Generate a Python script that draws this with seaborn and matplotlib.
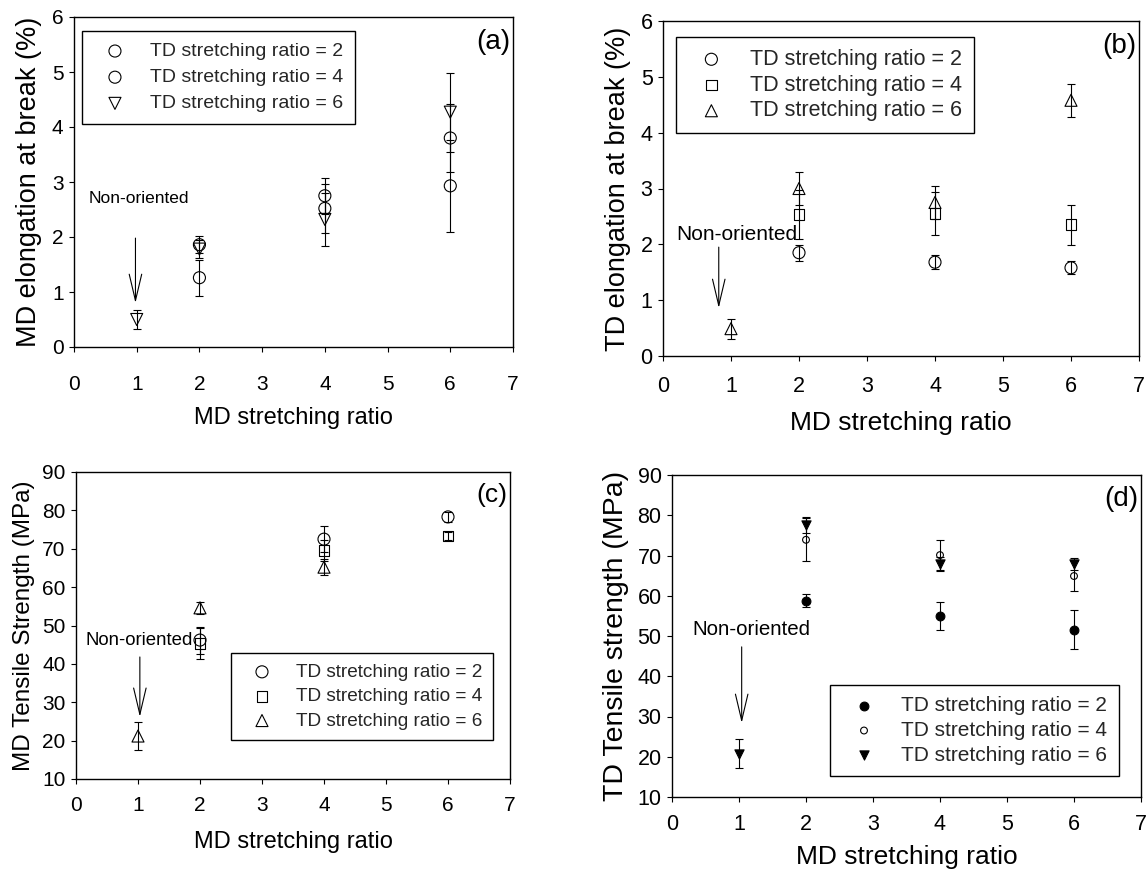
import numpy as np
import pandas as pd
import matplotlib
matplotlib.use("Agg")
import matplotlib.pyplot as plt
import seaborn as sns

sns.set_theme(style="ticks")
plt.rcParams["font.family"] = ["Liberation Sans", "DejaVu Sans"]

# ---------------- data ----------------
series_labels = ["TD stretching ratio = 2", "TD stretching ratio = 4", "TD stretching ratio = 6"]

# (a) MD elongation at break (%)
a_td2_x = [2, 4, 6]
a_td2_y = [1.26, 2.75, 2.93]
a_td2_e = [0.33, 0.33, 0.84]
a_td4_x = [2, 4, 6]
a_td4_y = [1.86, 2.52, 3.80]
a_td4_e = [0.15, 0.44, 0.61]
a_td6_x = [1, 2, 4, 6]
a_td6_y = [0.50, 1.78, 2.32, 4.27]
a_td6_e = [0.18, 0.17, 0.48, 0.72]

# (b) TD elongation at break (%)
b_td2_x = [2, 4, 6]
b_td2_y = [1.85, 1.68, 1.58]
b_td2_e = [0.14, 0.13, 0.12]
b_td4_x = [2, 4, 6]
b_td4_y = [2.53, 2.55, 2.35]
b_td4_e = [0.44, 0.39, 0.36]
b_td6_x = [1, 2, 4, 6]
b_td6_y = [0.49, 3.00, 2.75, 4.58]
b_td6_e = [0.18, 0.29, 0.29, 0.30]

# (c) MD tensile strength (MPa)
c_td2_x = [2, 4, 6]
c_td2_y = [46.2, 72.5, 78.3]
c_td2_e = [3.5, 3.4, 1.2]
c_td4_x = [2, 4, 6]
c_td4_y = [45.4, 69.6, 73.3]
c_td4_e = [4.0, 2.8, 1.0]
c_td6_x = [1, 2, 4]
c_td6_y = [21.2, 54.6, 65.2]
c_td6_e = [3.7, 1.6, 2.0]

# (d) TD tensile strength (MPa)
d_td2_x = [2, 4, 6]
d_td2_y = [58.8, 54.9, 51.6]
d_td2_e = [1.6, 3.5, 4.8]
d_td4_x = [2, 4, 6]
d_td4_y = [73.9, 70.1, 64.9]
d_td4_e = [5.3, 3.7, 3.7]
d_td6_x = [1, 2, 4, 6]
d_td6_y = [20.8, 77.6, 67.9, 67.9]
d_td6_e = [3.7, 1.9, 1.7, 1.6]

panel_letters = ["(a)", "(b)", "(c)", "(d)"]
y_labels = ["MD elongation at break (%)", "TD elongation at break (%)",
            "MD Tensile Strength (MPa)", "TD Tensile strength (MPa)"]
x_label = "MD stretching ratio"
note_text = "Non-oriented"


def make_df(xs, ys, es):
    frames = []
    for lab, x, y, e in zip(series_labels, xs, ys, es):
        frames.append(pd.DataFrame({"x": x, "y": y, "err": e, "series": lab}))
    return pd.concat(frames, ignore_index=True)


dfs = [
    make_df([a_td2_x, a_td4_x, a_td6_x], [a_td2_y, a_td4_y, a_td6_y], [a_td2_e, a_td4_e, a_td6_e]),
    make_df([b_td2_x, b_td4_x, b_td6_x], [b_td2_y, b_td4_y, b_td6_y], [b_td2_e, b_td4_e, b_td6_e]),
    make_df([c_td2_x, c_td4_x, c_td6_x], [c_td2_y, c_td4_y, c_td6_y], [c_td2_e, c_td4_e, c_td6_e]),
    make_df([d_td2_x, d_td4_x, d_td6_x], [d_td2_y, d_td4_y, d_td6_y], [d_td2_e, d_td4_e, d_td6_e]),
]

# ---------------- styles / layout ----------------
W, H = 1147, 874
rects_px = [(74, 17, 513, 347), (663, 21, 1139, 356), (76, 472, 510, 779), (672, 475, 1141, 797)]
markers = [["o", "o", "v"], ["o", "s", "^"], ["o", "s", "^"], ["o", "o", "v"]]
faces = [["none"] * 3, ["none"] * 3, ["none"] * 3, ["black", "none", "black"]]
sizes = [[75, 75, 75], [75, 60, 75], [75, 60, 75], [40, 24, 44]]
ylims = [(0, 6), (0, 6), (10, 90), (10, 90)]
yticks = [np.arange(0, 7, 1), np.arange(0, 7, 1), np.arange(10, 91, 10), np.arange(10, 91, 10)]
tick_fs = [15, 15.5, 15, 15.5]
xpads = [17, 11, 9, 9]
xlabel_pads = [9, 10, 11, 7]
ylabel_pads = [7, 7, 5, 6]
xlabel_fs = [17, 19, 17, 19]
ylabel_fs = [19.5, 19.5, 17.5, 20.5]
legend_fs = [14, 15.5, 13.7, 15]
legend_spacing = [0.44, 0.22, 0.37, 0.27]
legend_pad = [0.6, 0.55, 0.55, 0.55]
legend_loc = ["upper left", "upper left", "lower right", "lower right"]
legend_anchor = [(0.018, 0.958), (0.027, 0.952), (0.961, 0.127), (0.953, 0.065)]
letter_fs = [20, 20, 19, 20]
note_fs = [12.5, 15, 13.4, 14.8]
note_pos = [(0.24, 2.7), (0.19, 2.17), (0.15, 46.2), (0.31, 51.7)]
arrow_x = [0.98, 0.82, 1.03, 1.04]
arrow_top = [1.98, 1.95, 41.8, 47.3]
arrow_tip = [0.80, 0.86, 26.2, 28.4]

fig = plt.figure(figsize=(W / 100, H / 100), dpi=100)

for i in range(4):
    l, t, r, b = rects_px[i]
    ax = fig.add_axes([l / W, 1 - b / H, (r - l) / W, (b - t) / H])
    df = dfs[i]
    for j, lab in enumerate(series_labels):
        sub = df[df["series"] == lab]
        ax.errorbar(sub["x"], sub["y"], yerr=sub["err"], fmt="none", ecolor="black",
                    elinewidth=0.8, capsize=3, capthick=0.8, zorder=2)
        sns.scatterplot(data=sub, x="x", y="y", marker=markers[i][j], s=sizes[i][j],
                        facecolor=faces[i][j], edgecolor="black", linewidth=0.8,
                        ax=ax, label=lab, zorder=3)
    ax.set_xlim(0, 7)
    ax.set_ylim(*ylims[i])
    ax.set_xticks(range(0, 8))
    ax.set_yticks(yticks[i])
    ax.tick_params(axis="both", direction="out", length=3.5, width=0.8, colors="black",
                   labelsize=tick_fs[i], top=False, right=False)
    ax.tick_params(axis="x", pad=xpads[i])
    ax.tick_params(axis="y", pad=4)
    for sp in ax.spines.values():
        sp.set_visible(True)
        sp.set_color("black")
        sp.set_linewidth(1.0)
    ax.set_xlabel(x_label, fontsize=xlabel_fs[i], labelpad=xlabel_pads[i], color="black")
    ax.set_ylabel(y_labels[i], fontsize=ylabel_fs[i], labelpad=ylabel_pads[i], color="black")

    handles, labels = ax.get_legend_handles_labels()
    keep = [(h, lb) for h, lb in zip(handles, labels) if lb in series_labels]
    leg = ax.legend([k[0] for k in keep], [k[1] for k in keep], loc=legend_loc[i],
                    bbox_to_anchor=legend_anchor[i], borderaxespad=0, frameon=True,
                    fancybox=False, framealpha=1, edgecolor="black",
                    fontsize=legend_fs[i], labelspacing=legend_spacing[i],
                    borderpad=legend_pad[i], handlelength=2.2, handletextpad=0.7)
    leg.get_frame().set_linewidth(1.0)

    ax.text(0.995, 0.965, panel_letters[i], transform=ax.transAxes, ha="right", va="top",
            fontsize=letter_fs[i], color="black")
    ax.text(note_pos[i][0], note_pos[i][1], note_text, ha="left", va="center",
            fontsize=note_fs[i], color="black")
    ax.annotate("", xy=(arrow_x[i], arrow_tip[i]), xytext=(arrow_x[i], arrow_top[i]),
                arrowprops=dict(arrowstyle="->,head_length=1.9,head_width=0.45",
                                lw=0.8, color="black", shrinkA=0, shrinkB=0,
                                mutation_scale=10))

fig.savefig("out.png", dpi=100, facecolor="white")
